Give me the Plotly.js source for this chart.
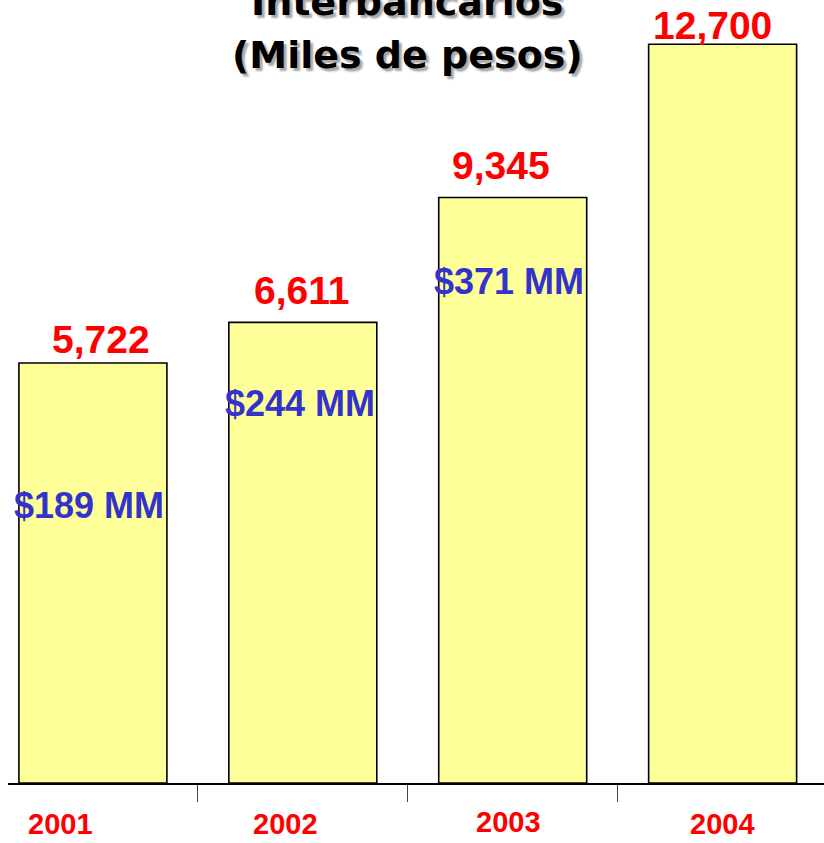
<!DOCTYPE html>
<html>
<head>
<meta charset="utf-8">
<script src="https://cdn.plot.ly/plotly-3.0.1.min.js"></script>
<style>html,body{margin:0;padding:0;background:#fff;}#chart{width:824px;height:843px;}</style>
</head>
<body>
<div id="chart"></div>
<script>
// ---- data ----
const categories = ['2001', '2002', '2003', '2004'];
const values = [5722, 6611, 9345, 12700];
const valueLabels = ['5,722', '6,611', '9,345', '12,700'];
const amountLabels = ['$189 MM', '$244 MM', '$371 MM'];
const titleLines = ['Interbancarios', '(Miles de pesos)'];

// ---- styling / layout parameters ----
const AXIS_BASE = -3476;          // value at which the category axis sits
const PX_PER_UNIT = 0.04567;
const PLOT_H = 783;
const Y_MAX = AXIS_BASE + PLOT_H / PX_PER_UNIT;

const valueLabelStyle = { xshift: [8, -1, -12, -10], gap: [23, 32, 32, 19] };
const amountLabelStyle = { xshift: [-4, -3, -4], ypix: [505, 403, 281] };
const catLabelStyle = { xshift: [-32, -17, -4, 0], yshift: [-41, -41, -39, -41] };

const trace = {
  type: 'bar',
  x: categories,
  y: values.map(v => v - AXIS_BASE),
  base: AXIS_BASE,
  width: 0.705,
  marker: { color: '#FFFF99', line: { color: '#000000', width: 1.6 } },
  hoverinfo: 'skip'
};

const annotations = [];
values.forEach((v, i) => {
  annotations.push({
    x: i, y: v, xref: 'x', yref: 'y',
    text: valueLabels[i], showarrow: false,
    xanchor: 'center', yanchor: 'middle',
    xshift: valueLabelStyle.xshift[i], yshift: valueLabelStyle.gap[i],
    font: { family: 'Liberation Sans, Arial, sans-serif', size: 39, color: '#FF0000', weight: 'bold' }
  });
});
amountLabels.forEach((t, i) => {
  annotations.push({
    x: i, y: (PLOT_H - amountLabelStyle.ypix[i]) / PLOT_H, xref: 'x', yref: 'paper',
    text: t, showarrow: false, xanchor: 'center', yanchor: 'middle',
    xshift: amountLabelStyle.xshift[i],
    font: { family: 'Liberation Sans, Arial, sans-serif', size: 36, color: '#3333CC', weight: 'bold' }
  });
});
categories.forEach((c, i) => {
  annotations.push({
    x: i, y: 0, xref: 'x', yref: 'paper', text: c, showarrow: false,
    xanchor: 'center', yanchor: 'middle',
    xshift: catLabelStyle.xshift[i], yshift: catLabelStyle.yshift[i],
    font: { family: 'Liberation Sans, Arial, sans-serif', size: 29, color: '#FF0000', weight: 'bold' }
  });
});
const titleY = [2, 55];
titleLines.forEach((t, i) => {
  annotations.push({
    x: 0.489, y: 1, xref: 'paper', yref: 'paper', text: t, showarrow: false,
    xanchor: 'center', yanchor: 'middle', yshift: -titleY[i],
    font: { family: 'DejaVu Sans, sans-serif', size: 38, color: '#000000', weight: 'bold',
            shadow: '3px 3px 2px rgba(0,0,0,0.35)' }
  });
});

const layout = {
  width: 824, height: 843,
  margin: { l: 8, r: 0, t: 0, b: 60, pad: 0 },
  paper_bgcolor: '#ffffff', plot_bgcolor: '#ffffff',
  showlegend: false,
  xaxis: {
    type: 'category', range: [-0.4045, 3.483],
    showline: true, linecolor: '#000000', linewidth: 2,
    ticks: 'outside', tickson: 'boundaries', ticklen: 17, tickwidth: 1, tickcolor: '#444444',
    showticklabels: false, showgrid: false, zeroline: false, fixedrange: true
  },
  yaxis: {
    range: [AXIS_BASE, Y_MAX], showgrid: false, zeroline: false,
    showticklabels: false, showline: false, ticks: '', fixedrange: true
  },
  annotations: annotations
};

Plotly.newPlot('chart', [trace], layout, { displayModeBar: false, staticPlot: true });
</script>
</body>
</html>
